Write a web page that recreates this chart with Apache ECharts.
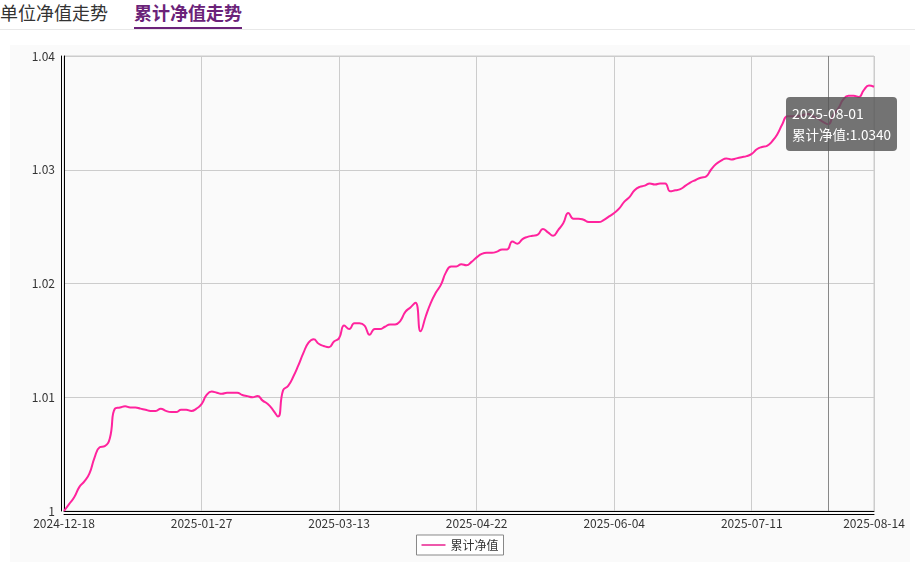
<!DOCTYPE html>
<html>
<head>
<meta charset="utf-8">
<script src="https://cdn.jsdelivr.net/npm/echarts@6/dist/echarts.min.js"></script>
<style>
html,body{margin:0;padding:0;background:#fff;width:915px;height:562px;overflow:hidden;font-family:'Noto Sans CJK SC','Noto Sans',sans-serif;}
.tab{position:absolute;top:0;font-size:18px;line-height:24px;white-space:nowrap;}
#tab1{left:0;color:#333;}
#tab2{left:134px;color:#6b2379;font-weight:bold;}
#uline{position:absolute;left:134px;top:27px;width:108px;height:2px;background:#6b2379;}
#sep{position:absolute;left:0;top:29px;width:915px;height:1px;background:#e8e8e8;}
#chart{position:absolute;left:10px;top:45px;width:900px;height:517px;background:#fafafa;}
</style>
</head>
<body>
<div class="tab" id="tab1">单位净值走势</div>
<div class="tab" id="tab2">累计净值走势</div>
<div id="sep"></div>
<div id="uline"></div>
<div id="chart"></div>
<script>
var seriesName = '累计净值';
var dates = [
'2024-12-18','2024-12-19','2024-12-20',
'2024-12-23','2024-12-24','2024-12-25','2024-12-26','2024-12-27',
'2024-12-30','2024-12-31',
'2025-01-02','2025-01-03',
'2025-01-06','2025-01-07','2025-01-08','2025-01-09','2025-01-10',
'2025-01-13','2025-01-14','2025-01-15','2025-01-16','2025-01-17',
'2025-01-20','2025-01-21','2025-01-22','2025-01-23','2025-01-24',
'2025-01-27',
'2025-02-05','2025-02-06','2025-02-07',
'2025-02-10','2025-02-11','2025-02-12','2025-02-13','2025-02-14',
'2025-02-17','2025-02-18','2025-02-19','2025-02-20','2025-02-21',
'2025-02-24','2025-02-25','2025-02-26','2025-02-27','2025-02-28',
'2025-03-03','2025-03-04','2025-03-05','2025-03-06','2025-03-07',
'2025-03-10','2025-03-11','2025-03-12','2025-03-13','2025-03-14',
'2025-03-17','2025-03-18','2025-03-19','2025-03-20','2025-03-21',
'2025-03-24','2025-03-25','2025-03-26','2025-03-27','2025-03-28',
'2025-03-31','2025-04-01','2025-04-02','2025-04-03',
'2025-04-07','2025-04-08','2025-04-09','2025-04-10','2025-04-11',
'2025-04-14','2025-04-15','2025-04-16','2025-04-17','2025-04-18',
'2025-04-21','2025-04-22','2025-04-23','2025-04-24','2025-04-25',
'2025-04-28','2025-04-29','2025-04-30',
'2025-05-06','2025-05-07','2025-05-08','2025-05-09',
'2025-05-12','2025-05-13','2025-05-14','2025-05-15','2025-05-16',
'2025-05-19','2025-05-20','2025-05-21','2025-05-22','2025-05-23',
'2025-05-26','2025-05-27','2025-05-28','2025-05-29','2025-05-30',
'2025-06-03','2025-06-04','2025-06-05','2025-06-06',
'2025-06-09','2025-06-10','2025-06-11','2025-06-12','2025-06-13',
'2025-06-16','2025-06-17','2025-06-18','2025-06-19','2025-06-20',
'2025-06-23','2025-06-24','2025-06-25','2025-06-26','2025-06-27',
'2025-06-30','2025-07-01','2025-07-02','2025-07-03','2025-07-04',
'2025-07-07','2025-07-08','2025-07-09','2025-07-10','2025-07-11',
'2025-07-14','2025-07-15','2025-07-16','2025-07-17','2025-07-18',
'2025-07-21','2025-07-22','2025-07-23','2025-07-24','2025-07-25',
'2025-07-28','2025-07-29','2025-07-30','2025-07-31','2025-08-01',
'2025-08-04','2025-08-05','2025-08-06','2025-08-07','2025-08-08',
'2025-08-11','2025-08-12','2025-08-13','2025-08-14'
];
var navValues = [
1.0000,1.0006,1.0012,1.0021,1.0026,1.0033,1.0047,1.0056,1.0057,1.0064,
1.0090,1.0091,1.0092,1.0091,1.0091,1.0090,1.0089,1.0088,1.0088,1.0090,
1.0088,1.0087,1.0087,1.0089,1.0089,1.0088,1.0090,1.0094,1.0102,1.0105,
1.0104,1.0103,1.0104,1.0104,1.0104,1.0102,1.0101,1.0100,1.0101,1.0097,
1.0094,1.0089,1.0083,1.0106,1.0110,1.0118,1.0128,1.0139,1.0148,1.0151,
1.0147,1.0145,1.0144,1.0149,1.0152,1.0163,1.0160,1.0165,1.0165,1.0163,
1.0155,1.0160,1.0160,1.0162,1.0164,1.0164,1.0167,1.0175,1.0179,1.0183,
1.0158,1.0171,1.0183,1.0192,1.0199,1.0210,1.0215,1.0215,1.0217,1.0216,
1.0219,1.0223,1.0226,1.0227,1.0227,1.0228,1.0230,1.0230,1.0237,1.0235,
1.0239,1.0241,1.0242,1.0243,1.0248,1.0245,1.0242,1.0247,1.0253,1.0262,
1.0257,1.0257,1.0256,1.0254,1.0254,1.0254,1.0256,1.0259,1.0262,1.0266,
1.0272,1.0276,1.0282,1.0285,1.0286,1.0288,1.0287,1.0288,1.0288,1.0281,
1.0282,1.0283,1.0286,1.0289,1.0291,1.0293,1.0294,1.0300,1.0305,1.0308,
1.0310,1.0309,1.0310,1.0311,1.0312,1.0314,1.0318,1.0320,1.0321,1.0325,
1.0331,1.0340,1.0347,1.0347,1.0347,1.0348,1.0349,1.0347,1.0345,1.0342,
1.0340,1.0348,1.0354,1.0362,1.0365,1.0365,1.0364,1.0370,1.0374,1.0373
];
var yMin = 1, yMax = 1.04, yStep = 0.01;
var labelEvery = 27;
var tooltipDate = '2025-08-01';

var lastIdx = dates.length - 1;
function showLabel(i){ return i % labelEvery === 0 || i === lastIdx; }

var chart = echarts.init(document.getElementById('chart'), null, {renderer:'canvas'});
var font = "'Noto Sans CJK SC','Noto Sans',sans-serif";
var lineColor = '#e8208f';
chart.setOption({
  animation: false,
  backgroundColor: '#fafafa',
  textStyle: {fontFamily: font},
  grid: {left:54, right:36, top:11, bottom:51, show:true, borderColor:'#ccc', borderWidth:1, backgroundColor:'transparent'},
  legend: {
    data:[{name:seriesName, icon:'rect'}], left:'center', bottom:7,
    borderColor:'#888', borderWidth:1, backgroundColor:'#fff', borderRadius:0,
    padding:[4,5], itemWidth:24, itemHeight:1.5, itemGap:5,
    itemStyle:{color:lineColor, borderWidth:0},
    textStyle:{fontSize:12, color:'#333', fontFamily:font}
  },
  tooltip: {
    trigger:'axis', triggerOn:'none', alwaysShowContent:true,
    axisPointer:{type:'line', lineStyle:{color:'#888', width:1, type:'solid'}},
    backgroundColor:'rgba(85,85,85,0.82)', borderWidth:0, padding:[6,6],
    extraCssText:'box-shadow:none;border-radius:4px;',
    textStyle:{color:'#fff', fontSize:14, fontFamily:font},
    position: function(){ return [776, 52]; },
    formatter: function(p){
      var it = p[0];
      return '<div style="line-height:21px;font-size:14px;color:#fff">' + it.name + '</div>' +
             '<div style="line-height:21px;font-size:13.5px;color:#fff">' + it.seriesName + ':' + Number(it.value).toFixed(4) + '</div>';
    }
  },
  xAxis: [{
    type:'category', data:dates, boundaryGap:false,
    axisLine:{show:true, lineStyle:{color:'#000', width:1}},
    axisTick:{show:false},
    axisLabel:{interval:function(i){return showLabel(i);}, color:'#333', fontSize:12, margin:6, fontFamily:font},
    splitLine:{show:true, interval:function(i){return showLabel(i);}, lineStyle:{color:'#ccc', width:1}}
  },{
    type:'category', data:dates, boundaryGap:false, position:'bottom', offset:3,
    axisLine:{show:true, lineStyle:{color:'#000', width:1}},
    axisTick:{show:false}, axisLabel:{show:false}, splitLine:{show:false}
  }],
  yAxis: [{
    type:'value', min:yMin, max:yMax, interval:yStep,
    axisLine:{show:true, lineStyle:{color:'#000', width:1}},
    axisTick:{show:false},
    axisLabel:{color:'#333', fontSize:12, margin:9, fontFamily:font},
    splitLine:{show:true, lineStyle:{color:'#ccc', width:1}}
  },{
    type:'value', min:yMin, max:yMax, interval:yStep, position:'left', offset:3,
    axisLine:{show:true, lineStyle:{color:'#000', width:1}},
    axisTick:{show:false}, axisLabel:{show:false}, splitLine:{show:false}
  }],
  series: [{
    name: seriesName, type:'line', data:navValues, smooth:true,
    symbol:'none', xAxisIndex:0, yAxisIndex:0,
    lineStyle:{color:lineColor, width:2},
    itemStyle:{color:lineColor}
  }]
});
function tip(){
  chart.dispatchAction({type:'showTip', seriesIndex:0, dataIndex:dates.indexOf(tooltipDate)});
}
tip();
setTimeout(tip, 50);
</script>
</body>
</html>
